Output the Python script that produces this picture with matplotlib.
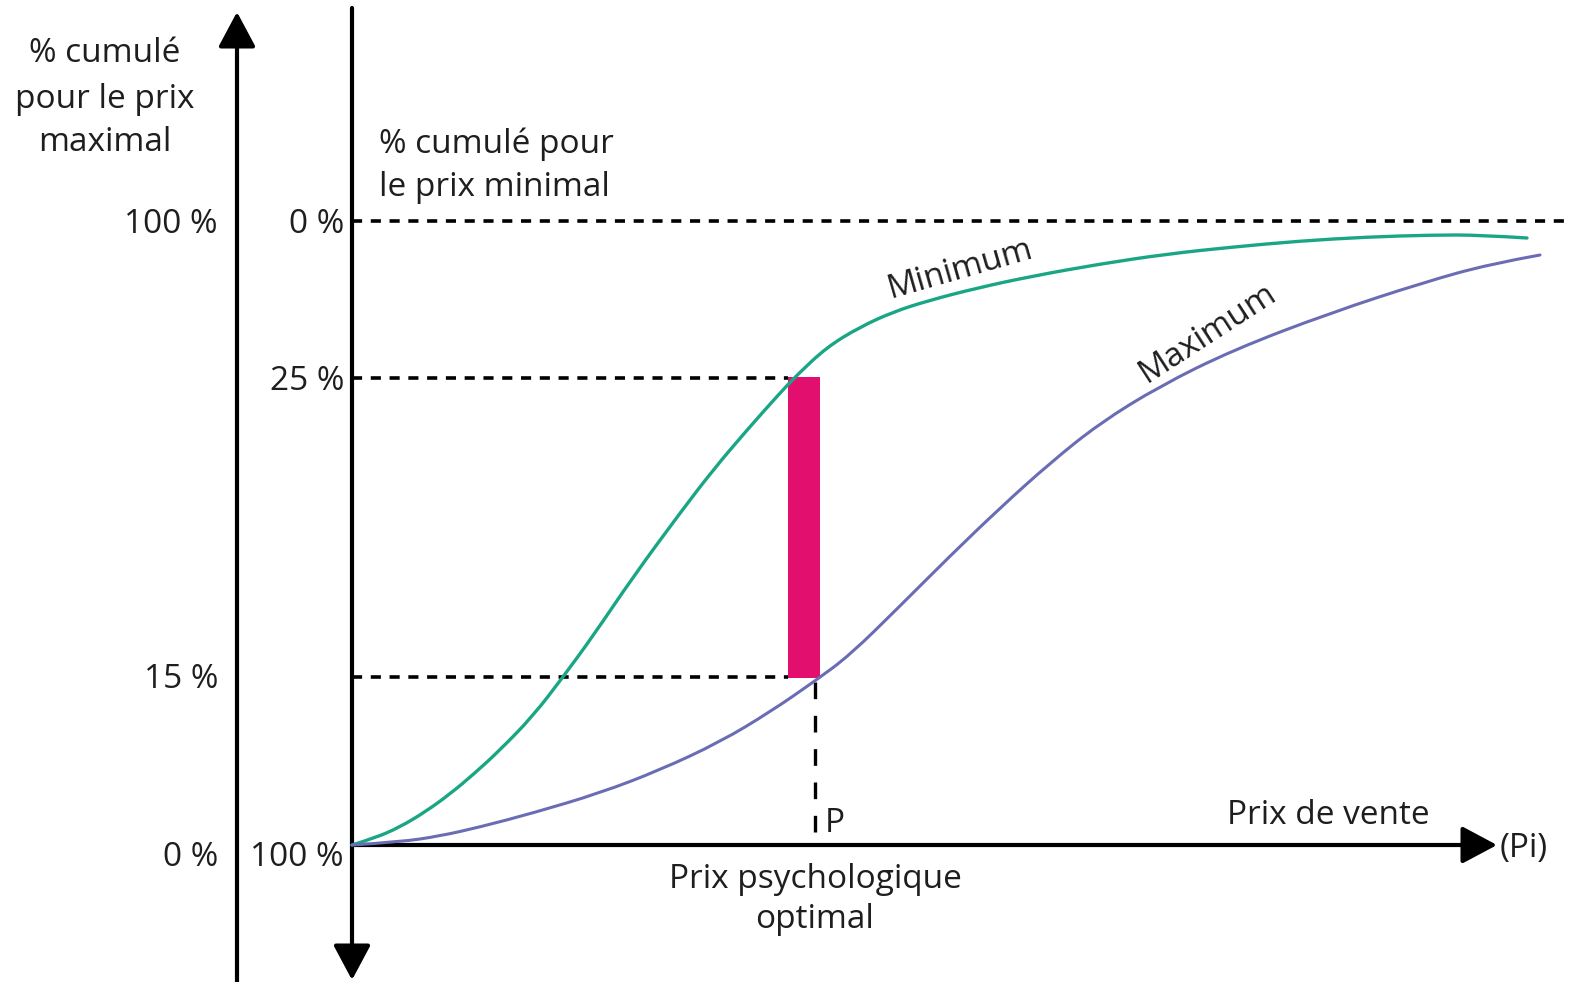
import matplotlib
matplotlib.use("Agg")
import matplotlib.pyplot as plt
from matplotlib.path import Path
from matplotlib.patches import PathPatch

plt.rcParams["font.family"] = ["Open Sans", "DejaVu Sans"]

# diagram coordinates: x grows right, y grows downward (0 at the top)
W, H = 1571, 982

# curve of cumulated minimum prices (green) and maximum prices (blue)
min_x = [352, 375, 400, 425, 450, 475, 500, 533, 563, 593, 633, 680, 713, 747,
         780, 797, 827, 860, 893, 927, 977, 1033, 1100, 1167, 1233, 1300, 1367,
         1433, 1480, 1527]
min_y = [845, 838, 827, 812, 794, 773, 750, 716, 677, 636, 577, 513, 470, 430,
         393, 375, 347, 327, 312, 301, 288, 276, 264, 254, 247, 241, 237,
         235, 235, 238]

max_x = [352, 400, 440, 480, 533, 600, 660, 720, 770, 815, 850, 900, 950, 1000,
         1050, 1100, 1160, 1233, 1330, 1425, 1490, 1540]
max_y = [845, 842, 836, 827, 813, 793, 770, 742, 712, 681, 655, 606, 556, 508,
         463, 423, 386, 350, 313, 282, 264, 255]

# percentage levels: (y position, left-axis label, right-axis label)
level_y = [221, 378, 677, 845]
left_labels = ["100 %", "", "15 %", "0 %"]
right_labels = ["0 %", "25 %", "", "100 %"]

# optimal price
p_x = 815
bar_left, bar_right = 788, 820
bar_top, bar_bottom = 377, 678

GREEN = "#1aa685"
BLUE = "#6a6cb4"
PINK = "#e20f6e"
TXT = "#1e1e1e"
FS = 24
DY = 3  # small baseline nudge for centred text

fig = plt.figure(figsize=(W / 100, H / 100), dpi=100)
ax = fig.add_axes([0, 0, 1, 1])
ax.set_xlim(0, W)
ax.set_ylim(H, 0)
ax.axis("off")

axis_x1, axis_x2 = 237, 352
origin_y = level_y[3]


def arrow(tail, tip):
    ax.annotate("", xy=tip, xytext=tail,
                arrowprops=dict(arrowstyle="-|>,head_length=0.6,head_width=0.32",
                                mutation_scale=36, lw=3, color="black",
                                shrinkA=0, shrinkB=0))


def smooth_curve(xs, ys, color, lw):
    # quadratic B-spline style path: points act as control points
    pts = list(zip(xs, ys))
    verts = [pts[0]]
    codes = [Path.MOVETO]
    for i in range(1, len(pts) - 1):
        mid = ((pts[i][0] + pts[i + 1][0]) / 2, (pts[i][1] + pts[i + 1][1]) / 2)
        if i == len(pts) - 2:
            mid = pts[-1]
        verts += [pts[i], mid]
        codes += [Path.CURVE3, Path.CURVE3]
    ax.add_patch(PathPatch(Path(verts, codes), fill=False, edgecolor=color,
                           lw=lw, capstyle="round", zorder=4))


def label(x, y, s, ha="center", **kw):
    ax.text(x, y + DY, s, fontsize=FS, color=TXT, ha=ha, va="center", **kw)


# axes
arrow((axis_x1, 982), (axis_x1, 12))
arrow((axis_x2, 8), (axis_x2, 980))
arrow((axis_x2, origin_y), (1497, origin_y))

# dashed guide lines
ax.plot([axis_x2, 1568], [level_y[0]] * 2, color="black", lw=2.6, dashes=(2.8, 2.4))
ax.plot([axis_x2, bar_left], [level_y[1]] * 2, color="black", lw=2.6, dashes=(2.8, 2.4))
ax.plot([axis_x2, bar_left], [level_y[2]] * 2, color="black", lw=2.6, dashes=(2.8, 2.4))
ax.plot([p_x, p_x], [bar_bottom + 4, origin_y - 4], color="black", lw=2.4, dashes=(5, 5))

# acceptable price zone
ax.fill_between([bar_left, bar_right], bar_top, bar_bottom, color=PINK, lw=0, zorder=3)

# curves
smooth_curve(min_x, min_y, GREEN, 2.4)
smooth_curve(max_x, max_y, BLUE, 2.2)

label(960, 266, "Minimum", rotation=16)
label(1208, 330, "Maximum", rotation=33)

# level labels
for y, lab in zip(level_y, left_labels):
    if lab:
        label(218, y + (10 if y == origin_y else 0), lab, ha="right")
for y, lab in zip(level_y, right_labels):
    if lab:
        label(344, y + (10 if y == origin_y else 0), lab, ha="right")

# axis titles
for y, line in zip([50, 96, 139], ["% cumulé", "pour le prix", "maximal"]):
    label(105, y, line)
for y, line in zip([141, 184], ["% cumulé pour", "le prix minimal"]):
    label(379, y, line, ha="left")
label(1328, 812, "Prix de vente")
label(1500, 846, "(Pi)", ha="left")
label(825, 821, "P", ha="left")
label(p_x, 876, "Prix psychologique")
label(p_x, 917, "optimal")

fig.savefig("out.png", dpi=100, facecolor="white")
